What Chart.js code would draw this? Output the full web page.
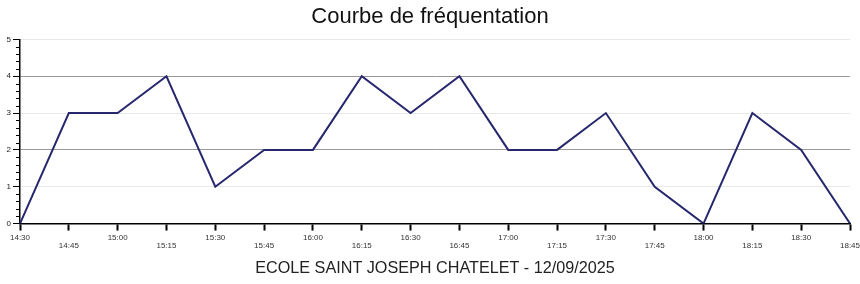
<!DOCTYPE html>
<html><head><meta charset="utf-8">
<script src="https://cdn.jsdelivr.net/npm/chart.js@4.4.0/dist/chart.umd.min.js"></script>
<style>html,body{margin:0;padding:0;background:#fff;}#wrap{width:860px;height:284px;}</style>
</head><body><div id="wrap"><canvas id="c" width="860" height="284"></canvas></div>
<script>
const categories = ["14:30","14:45","15:00","15:15","15:30","15:45","16:00","16:15","16:30","16:45","17:00","17:15","17:30","17:45","18:00","18:15","18:30","18:45"];
const frequentation = [0,3,3,4,1,2,2,4,3,4,2,2,3,1,0,3,2,0];
const yTicks = [0,1,2,3,4,5];
const chartTitle = "Courbe de fréquentation";
const axisTitle = "ECOLE SAINT JOSEPH CHATELET - 12/09/2025";

const minorTicks = {
  id: 'minorTicks',
  afterDraw(chart) {
    const y = chart.scales.y, ctx = chart.ctx;
    ctx.save();
    ctx.strokeStyle = '#000';
    ctx.lineWidth = 1;
    for (let v = 0; v <= 5.0001; v += 0.2) {
      if (Math.abs(v - Math.round(v)) < 1e-6) continue;
      const py = Math.round(y.getPixelForValue(v)) + 0.5;
      ctx.beginPath();
      ctx.moveTo(y.right - 4, py);
      ctx.lineTo(y.right, py);
      ctx.stroke();
    }
    ctx.restore();
  }
};

new Chart(document.getElementById('c'), {
  type: 'line',
  data: {
    labels: categories,
    datasets: [{
      data: frequentation,
      borderColor: '#27276e',
      borderWidth: 2,
      pointRadius: 0,
      tension: 0,
      fill: false
    }]
  },
  options: {
    responsive: false,
    animation: false,
    layout: { padding: { left: 0, right: 0, top: 0, bottom: 1 } },
    plugins: {
      legend: { display: false },
      tooltip: { enabled: false },
      title: {
        display: true,
        text: chartTitle,
        color: '#111',
        font: { family: 'Liberation Sans, Arial, sans-serif', size: 22, weight: 'normal' },
        padding: { top: 4, bottom: 9 }
      }
    },
    scales: {
      x: {
        offset: false,
        afterFit: function(scale) { scale.paddingRight = 10; scale.paddingLeft = 0; },
        border: { display: true, color: '#000', width: 1.5 },
        grid: { drawOnChartArea: false, drawTicks: true, tickLength: 7, tickColor: '#000', tickWidth: 2 },
        ticks: {
          autoSkip: false, maxRotation: 0, minRotation: 0, padding: 3,
          color: '#333',
          font: { family: 'Liberation Sans, Arial, sans-serif', size: 8, lineHeight: 1 },
          callback: function(v, i) { const l = categories[i]; return i % 2 === 0 ? l : ['', l]; }
        },
        title: {
          display: true, text: axisTitle, color: '#222',
          font: { family: 'Liberation Sans, Arial, sans-serif', size: 16.2 },
          padding: { top: 6, bottom: 5 }
        }
      },
      y: {
        min: 0, max: 5,
        afterBuildTicks: function(scale) { scale.ticks = yTicks.map(v => ({ value: v })); },
        afterFit: function(scale) { scale.width = 20; },
        border: { display: true, color: '#000', width: 1.5 },
        grid: {
          drawTicks: true, tickLength: 7, tickColor: '#000',
          color: function(ctx) {
            const v = ctx.tick ? ctx.tick.value : 0;
            if (v === 0) return 'rgba(0,0,0,0)';
            return (v % 2 === 0) ? '#9a9a9a' : '#e8e8e8';
          },
          lineWidth: 1
        },
        ticks: {
          padding: 2, color: '#222',
          font: { family: 'Liberation Sans, Arial, sans-serif', size: 8 }
        }
      }
    }
  },
  plugins: [minorTicks]
});
</script></body></html>
